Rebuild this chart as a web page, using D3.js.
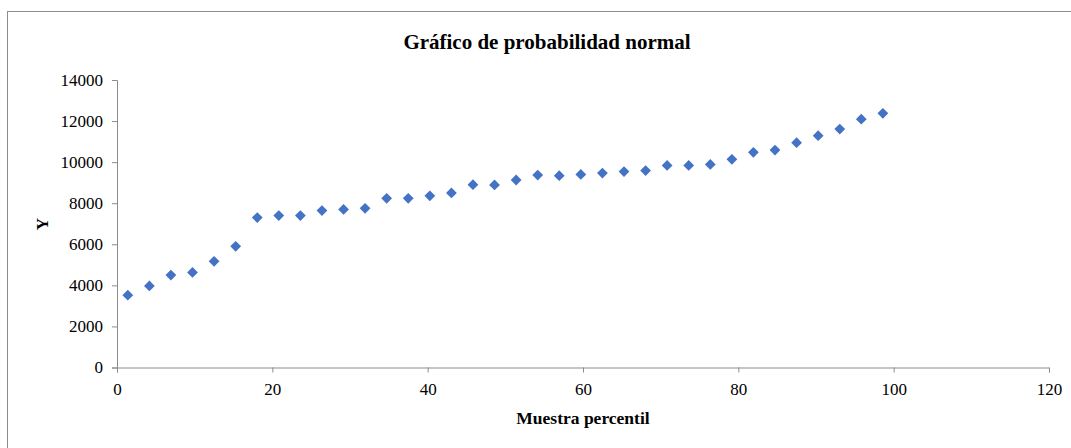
<!DOCTYPE html>
<html>
<head>
<meta charset="utf-8">
<script src="https://cdn.jsdelivr.net/npm/d3@7"></script>
<style>
  html, body { margin: 0; padding: 0; background: #ffffff; }
  svg { display: block; }
  text { font-family: "Liberation Serif", "Times New Roman", serif; fill: #000; }
</style>
</head>
<body>
<svg id="chart" width="1071" height="448"></svg>
<script>
// Sample percentile (x) and ordered observations (y)
const percentiles = [1.39, 4.17, 6.94, 9.72, 12.50, 15.28, 18.06, 20.83, 23.61, 26.39, 29.17, 31.94,
  34.72, 37.50, 40.28, 43.06, 45.83, 48.61, 51.39, 54.17, 56.94, 59.72, 62.50, 65.28,
  68.06, 70.83, 73.61, 76.39, 79.17, 81.94, 84.72, 87.50, 90.28, 93.06, 95.83, 98.61];
const yValues = [3520, 3970, 4500, 4630, 5170, 5900, 7300, 7400, 7400, 7640, 7700, 7750,
  8240, 8240, 8360, 8500, 8900, 8890, 9130, 9370, 9340, 9400, 9470, 9540,
  9590, 9840, 9840, 9890, 10140, 10480, 10590, 10950, 11290, 11610, 12090, 12380];
const xTicks = [0, 20, 40, 60, 80, 100, 120];
const yTicks = [0, 2000, 4000, 6000, 8000, 10000, 12000, 14000];

const titleText = "Gráfico de probabilidad normal";
const xTitle = "Muestra percentil";
const yTitle = "Y";

const svg = d3.select("#chart");
const plotLeft = 117, plotRight = 1049, plotTop = 80, plotBottom = 367.5;

// chart area outline
svg.append("rect")
  .attr("x", 7.5).attr("y", 11.5)
  .attr("width", 1080).attr("height", 450)
  .attr("fill", "#fff").attr("stroke", "#8c8c8c").attr("stroke-width", 1);

const x = d3.scaleLinear().domain([0, 120]).range([plotLeft, plotRight]);
const y = d3.scaleLinear().domain([0, 14000]).range([plotBottom, plotTop]);

const axisColor = "#8c8c8c";

const gx = svg.append("g")
  .attr("transform", `translate(0,${plotBottom})`)
  .call(d3.axisBottom(x).tickValues(xTicks).tickSize(5).tickPadding(10).tickFormat(d3.format("d")));
const gy = svg.append("g")
  .attr("transform", `translate(${plotLeft},0)`)
  .call(d3.axisLeft(y).tickValues(yTicks).tickSize(5).tickPadding(9).tickFormat(d3.format("d")));

[gx, gy].forEach(g => {
  g.select(".domain").attr("stroke", axisColor);
  g.selectAll(".tick line").attr("stroke", axisColor);
  g.selectAll(".tick text")
    .style("font-family", '"Liberation Serif", "Times New Roman", serif')
    .style("font-size", "17px")
    .attr("fill", "#000");
});

// diamond markers
const diamond = d3.symbol().type(d3.symbolDiamond2).size(74);
svg.append("g")
  .selectAll("path")
  .data(percentiles.map((p, i) => [p, yValues[i]]))
  .join("path")
  .attr("d", diamond)
  .attr("transform", d => `translate(${x(d[0])},${y(d[1])})`)
  .attr("fill", "#4472c4");

svg.append("text")
  .attr("x", 547).attr("y", 49)
  .attr("text-anchor", "middle")
  .style("font-size", "21px").style("font-weight", "bold")
  .text(titleText);

svg.append("text")
  .attr("x", 583).attr("y", 424)
  .attr("text-anchor", "middle")
  .style("font-size", "17.5px").style("font-weight", "bold")
  .text(xTitle);

svg.append("text")
  .attr("transform", "translate(48,224) rotate(-90)")
  .attr("text-anchor", "middle")
  .style("font-size", "17px").style("font-weight", "bold")
  .text(yTitle);
</script>
</body>
</html>
